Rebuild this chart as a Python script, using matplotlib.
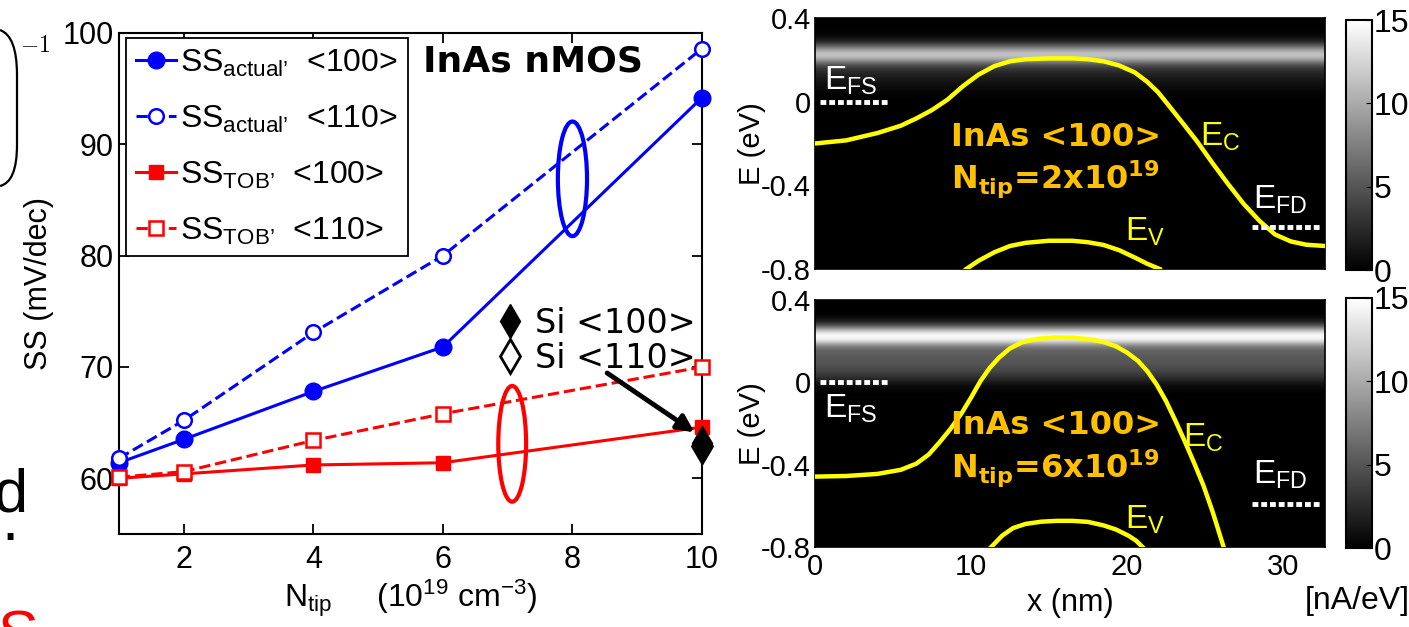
import numpy as np
import matplotlib
matplotlib.use('Agg')
import matplotlib.pyplot as plt
from matplotlib.patches import Ellipse, PathPatch
from matplotlib.path import Path
from matplotlib.lines import Line2D

plt.rcParams['font.family'] = ['Liberation Sans', 'DejaVu Sans']
plt.rcParams['mathtext.fontset'] = 'custom'
plt.rcParams['mathtext.rm'] = 'Liberation Sans'
plt.rcParams['mathtext.it'] = 'Liberation Sans:italic'
plt.rcParams['mathtext.bf'] = 'Liberation Sans:bold'

# subthreshold swing vs tip doping
n_tip = [1, 2, 4, 6, 10]
ss_act_100 = [61.4, 63.5, 67.8, 71.8, 94.2]
ss_act_110 = [61.8, 65.2, 73.1, 80.0, 98.6]
ss_tob_100 = [60.0, 60.4, 61.2, 61.4, 64.6]
ss_tob_110 = [60.1, 60.6, 63.4, 65.8, 70.0]
si_n = [10]
si_100 = [63.2]
si_110 = [62.9]

# band edges, N_tip = 2e19
ec_a_x = [0, 2, 4, 5.5, 6.5, 7.5, 8.5, 9.5, 10.5, 11.5, 12.5, 13.5, 15, 16.5, 17.5,
          18.5, 19.5, 20.5, 21.3, 22, 22.7, 23.5, 24.5, 25.5, 26.5, 27.5, 28.5,
          29.5, 30.5, 31.5, 32.7]
ec_a_e = [-0.20, -0.185, -0.15, -0.115, -0.08, -0.04, 0.01, 0.075, 0.13, 0.17, 0.193,
          0.203, 0.207, 0.207, 0.203, 0.193, 0.173, 0.14, 0.095, 0.045, -0.02, -0.095,
          -0.19, -0.295, -0.395, -0.49, -0.57, -0.635, -0.668, -0.684, -0.69]
ev_a_x = [9.7, 10.5, 11.5, 12.5, 13.5, 15, 16.5, 17.5, 18.5, 19.5, 20.5, 21.3, 22.1]
ev_a_e = [-0.80, -0.76, -0.72, -0.69, -0.675, -0.665, -0.665, -0.672, -0.685, -0.71,
          -0.745, -0.775, -0.80]

# band edges, N_tip = 6e19
ec_b_x = [0, 2, 4, 5.5, 6.5, 7.3, 8, 8.7, 9.4, 10, 10.6, 11.2, 11.8, 12.5, 13.3, 14.3,
          15.5, 16.5, 17.5, 18.5, 19.3, 20, 20.7, 21.3, 21.9, 22.5, 23.1, 23.7, 24.3,
          24.9, 25.5, 26.2]
ec_b_e = [-0.458, -0.455, -0.445, -0.425, -0.395, -0.35, -0.29, -0.225, -0.15, -0.075,
          0.005, 0.07, 0.12, 0.165, 0.195, 0.212, 0.218, 0.217, 0.21, 0.196, 0.175,
          0.145, 0.105, 0.055, -0.01, -0.09, -0.185, -0.285, -0.39, -0.5, -0.63, -0.8]
ev_b_x = [11.3, 12, 12.7, 13.5, 14.5, 15.5, 16.5, 17.5, 18.5, 19.3, 20.1, 20.6, 21.0]
ev_b_e = [-0.80, -0.745, -0.708, -0.688, -0.677, -0.673, -0.673, -0.678, -0.695, -0.715,
          -0.745, -0.77, -0.80]

# energy-resolved current (nA/eV), rows from 0.36 eV down to -0.06 eV
ldos_e = [0.36, 0.34, 0.32, 0.30, 0.28, 0.26, 0.24, 0.22, 0.20, 0.18, 0.16, 0.14, 0.12,
          0.10, 0.08, 0.06, 0.04, 0.02, 0.00, -0.02, -0.04, -0.06]
ldos_a = [0, 0, 0.2, 0.8, 2.5, 6, 10, 12, 10, 6, 3.5, 2.5, 1.8, 1.3, 0.9, 0.6, 0.3,
          0.1, 0, 0, 0, 0]
ldos_b = [0, 0, 0.3, 1.5, 4, 9, 14, 15, 13, 8, 6, 5.5, 5.2, 5, 4.7, 4.2, 3.5, 2.5,
          1.3, 0.6, 0.2, 0]

W, H = 1409, 627
fig = plt.figure(figsize=(W / 100, H / 100), dpi=100)


def fx(px):
    return px / W


def fy(py):
    return 1 - py / H


# ---------------- left panel ----------------
ax = fig.add_axes([fx(119), fy(534), fx(702 - 119), (534 - 33) / H])
blue, red = (0, 0, 1), (1, 0, 0)
ax.plot(n_tip, ss_act_100, '-o', color=blue, lw=2.2, ms=12, clip_on=False, zorder=4,
        label=r"SS$_{\mathrm{actual’}}$  <100>")
ax.plot(n_tip, ss_act_110, '--o', color=blue, lw=2.2, ms=10.5, mfc='white', mew=1.8,
        clip_on=False, zorder=4, label=r"SS$_{\mathrm{actual’}}$  <110>")
ax.plot(n_tip, ss_tob_100, '-s', color=red, lw=2.2, ms=10.5, clip_on=False, zorder=4,
        label=r"SS$_{\mathrm{TOB’}}$  <100>")
ax.plot(n_tip, ss_tob_110, '--s', color=red, lw=2.2, ms=10, mfc='white', mew=1.8,
        clip_on=False, zorder=4, label=r"SS$_{\mathrm{TOB’}}$  <110>")
ax.plot(si_n, si_110, 'd', color='k', mfc='white', ms=17, mew=2, clip_on=False, zorder=5)
ax.plot(si_n, si_100, 'd', color='k', ms=17, clip_on=False, zorder=6)

ax.set_xlim(1, 10)
ax.set_ylim(55, 100)
ax.set_xticks([2, 4, 6, 8, 10])
ax.set_yticks([60, 70, 80, 90, 100])
ax.tick_params(direction='in', top=True, right=True, length=7, width=1.3,
               labelsize=22, pad=4)
ax.tick_params(axis='x', pad=8)
for s in ax.spines.values():
    s.set_linewidth(1.5)
ax.set_ylabel('SS (mV/dec)', fontsize=22, labelpad=6)
ax.set_xlabel(r'N$_{\mathrm{tip}}$     (10$^{19}$ cm$^{-3}$)', fontsize=23, labelpad=2)

leg = ax.legend(loc='upper left', bbox_to_anchor=(0.012, 0.99), fontsize=23,
                fancybox=False, edgecolor='k', framealpha=1, handlelength=1.25,
                handletextpad=0.15, labelspacing=0.78, borderpad=0.3,
                borderaxespad=0)
leg.get_frame().set_linewidth(1.3)
ax.add_artist(leg)

si_handles = [Line2D([], [], marker='d', color='k', ls='none', ms=17),
              Line2D([], [], marker='d', color='k', mfc='white', ls='none', ms=17,
                     mew=2)]
ax.legend(si_handles, ['Si <100>', 'Si <110>'], loc='upper left',
          bbox_to_anchor=(0.63, 0.48), frameon=False, handlelength=0.6,
          handletextpad=0.45, labelspacing=0.05, borderaxespad=0,
          prop={'family': 'DejaVu Sans', 'size': 24})

ax.text(0.71, 0.943, 'InAs nMOS', transform=ax.transAxes, ha='center', va='center',
        fontsize=26, fontweight='bold', family='DejaVu Sans')

ax.add_patch(Ellipse((8.0, 86.9), 0.45, 10.3, fill=False, ec=blue, lw=3, zorder=3))
ax.add_patch(Ellipse((7.07, 63.1), 0.43, 10.4, fill=False, ec=red, lw=3, zorder=3))
ax.annotate('', xy=(9.92, 64.0), xytext=(8.5, 69.6),
            arrowprops=dict(arrowstyle='-|>', lw=3.5, color='k', mutation_scale=25),
            zorder=7)

# ---------------- right panels ----------------
orange = '#FFC000'
yellow = '#FFFF00'


def band_panel(rect, cbar_rect, ec_x, ec_e, ev_x, ev_e, ldos):
    a = fig.add_axes(rect)
    a.set_facecolor('k')
    de = 0.01
    im = a.imshow(np.array(ldos, dtype=float)[:, None],
                  extent=[0, 32.7, ldos_e[-1] - de, ldos_e[0] + de],
                  aspect='auto', cmap='gray', vmin=0, vmax=15,
                  interpolation='bicubic', zorder=1)
    a.plot(ec_x, ec_e, color=yellow, lw=3.2, zorder=3)
    a.plot(ev_x, ev_e, color=yellow, lw=3.2, zorder=3)
    a.set_xlim(0, 32.7)
    a.set_ylim(-0.8, 0.4)
    a.set_yticks([-0.8, -0.4, 0, 0.4])
    a.set_yticklabels(['-0.8', '-0.4', '0', '0.4'])
    a.set_xticks([0, 10, 20, 30])
    a.tick_params(direction='in', length=0, labelsize=21, pad=3)
    a.set_ylabel('E (eV)', fontsize=21, labelpad=-4)
    for s in a.spines.values():
        s.set_linewidth(1.2)
    c = fig.add_axes(cbar_rect)
    cb = fig.colorbar(im, cax=c, ticks=[0, 5, 10, 15])
    cb.ax.tick_params(labelsize=23, direction='in', length=4, pad=1)
    cb.outline.set_linewidth(1.5)
    return a


ax1 = band_panel([fx(815), fy(269), fx(1325 - 815), (269 - 18) / H],
                 [fx(1346), fy(270), fx(26), (270 - 20) / H],
                 ec_a_x, ec_a_e, ev_a_x, ev_a_e, ldos_a)
ax1.set_xticklabels([])
ax2 = band_panel([fx(815), fy(547), fx(1325 - 815), (547 - 300) / H],
                 [fx(1346), fy(548), fx(26), (548 - 298) / H],
                 ec_b_x, ec_b_e, ev_b_x, ev_b_e, ldos_b)
ax2.set_xlabel('x (nm)', fontsize=22, labelpad=5)
ax2.tick_params(axis='x', pad=4)

# Fermi levels
for a, efd in ((ax1, -0.60), (ax2, -0.59)):
    a.plot([0.3, 4.8], [0, 0], color='white', lw=3.5, ls=(0, (1.2, 0.6)), zorder=4)
    a.plot([28.0, 32.4], [efd, efd], color='white', lw=3.5, ls=(0, (1.2, 0.6)), zorder=4)

lab = dict(fontsize=24, zorder=5)
tag = dict(color=orange, va='center', fontsize=23, fontweight='bold',
           family='DejaVu Sans', math_fontfamily='dejavusans', zorder=5)
ax1.text(0.6, 0.10, r'E$_{\mathrm{FS}}$', color='white', va='center', **lab)
ax1.text(28.1, -0.47, r'E$_{\mathrm{FD}}$', color='white', va='center', **lab)
ax1.text(24.7, -0.17, r'E$_{\mathrm{C}}$', color=yellow, va='center', **lab)
ax1.text(19.9, -0.62, r'E$_{\mathrm{V}}$', color=yellow, va='center', **lab)
ax1.text(8.7, -0.17, 'InAs <100>', **tag)
ax1.text(8.7, -0.37, r'N$_{\mathbf{tip}}$=2x10$^{\mathbf{19}}$', **tag)

ax2.text(0.6, -0.13, r'E$_{\mathrm{FS}}$', color='white', va='center', **lab)
ax2.text(28.1, -0.45, r'E$_{\mathrm{FD}}$', color='white', va='center', **lab)
ax2.text(23.6, -0.27, r'E$_{\mathrm{C}}$', color=yellow, va='center', **lab)
ax2.text(19.9, -0.67, r'E$_{\mathrm{V}}$', color=yellow, va='center', **lab)
ax2.text(8.7, -0.21, 'InAs <100>', **tag)
ax2.text(8.7, -0.42, r'N$_{\mathbf{tip}}$=6x10$^{\mathbf{19}}$', **tag)

fig.text(fx(1357), fy(601), '[nA/eV]', fontsize=23, ha='center', va='center')

# pieces of the neighbouring slide text on the far left
paren = Path([(fx(0), fy(30)), (fx(17), fy(36)), (fx(17), fy(75)),
              (fx(17), fy(145)), (fx(17), fy(182)), (fx(0), fy(186))],
             [Path.MOVETO, Path.CURVE3, Path.CURVE3, Path.LINETO, Path.CURVE3,
              Path.CURVE3])
fig.add_artist(PathPatch(paren, transform=fig.transFigure, fill=False, lw=1.6,
                         ec='k'))
fig.text(fx(20), fy(46), r'$-1$', fontsize=17, math_fontfamily='cm', va='center')
fig.text(fx(27), fy(512), 'd', fontsize=44, ha='right', va='baseline')
fig.text(fx(1), fy(540), '.', fontsize=44, ha='left', va='baseline')
fig.text(fx(-3), fy(654), 'S', fontsize=44, ha='left', va='baseline', color='red')

fig.savefig('out.png', dpi=100)
